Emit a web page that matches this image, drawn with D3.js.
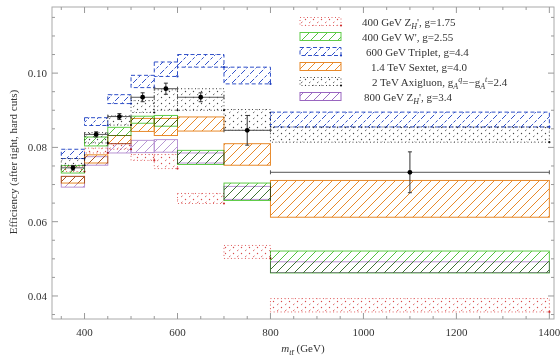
<!DOCTYPE html>
<html>
<head>
<meta charset="utf-8">
<script src="https://cdn.jsdelivr.net/npm/d3@7"></script>
<style>
  html, body { margin: 0; padding: 0; background: #fff; }
  svg text { font-family: "Liberation Serif", "DejaVu Serif", serif; fill: #333; }
  .band { mix-blend-mode: multiply; }
</style>
</head>
<body>
<svg id="chart" width="560" height="357"></svg>
<script>
// Mass bin edges (GeV)
const binEdges = [350, 400, 450, 500, 550, 600, 700, 800, 1400];

// Efficiency bands per bin: [low, high]
const zh400Low  = [0.0735, 0.0785, 0.0795, 0.0765, 0.0743, 0.0649, 0.0501, 0.0357];
const zh400High = [0.0748, 0.0798, 0.0810, 0.0781, 0.0781, 0.0676, 0.0536, 0.0393];

const wpLow  = [0.0731, 0.0804, 0.0832, 0.0865, 0.0857, 0.0754, 0.0657, 0.0462];
const wpHigh = [0.0751, 0.0828, 0.0854, 0.0884, 0.0886, 0.0792, 0.0704, 0.0521];

const tripletLow  = [0.0770, 0.0859, 0.0918, 0.0961, 0.0991, 0.1016, 0.0971, 0.0855];
const tripletHigh = [0.0795, 0.0880, 0.0942, 0.0994, 0.1030, 0.1050, 0.1016, 0.0895];

const sextetLow  = [0.0704, 0.0758, 0.0810, 0.0843, 0.0832, 0.0844, 0.0752, 0.0612];
const sextetHigh = [0.0722, 0.0780, 0.0832, 0.0878, 0.0878, 0.0882, 0.0810, 0.0711];

const axiLow  = [0.0752, 0.0812, 0.0860, 0.0894, 0.0900, 0.0900, 0.0846, 0.0814];
const axiHigh = [0.0770, 0.0840, 0.0885, 0.0926, 0.0955, 0.0958, 0.0902, 0.0855];

const zh800Low  = [0.0693, 0.0752, 0.0785, 0.0786, 0.0787, 0.0758, 0.0660, 0.0463];
const zh800High = [0.0722, 0.0775, 0.0810, 0.0819, 0.0821, 0.0785, 0.0695, 0.0492];

// Measured efficiency points with errors
const pointValues = [0.0745, 0.0835, 0.0883, 0.0935, 0.0958, 0.0935, 0.0846, 0.0733];
const pointErrors = [0.0006, 0.0007, 0.0008, 0.0012, 0.0015, 0.0012, 0.0040, 0.0055];

// Axis ticks
const xMajorTicks = [400, 600, 800, 1000, 1200, 1400];
const yMajorTicks = [0.04, 0.06, 0.08, 0.10];

const svg = d3.select("#chart");
const plotLeft = 52, plotRight = 554, plotTop = 7, plotBottom = 319;

const x = d3.scaleLinear().domain([330, 1410]).range([plotLeft, plotRight]);
const y = d3.scaleLinear().domain([0.0338, 0.1178]).range([plotBottom, plotTop]);

// ---- fill patterns ----
const defs = svg.append("defs");
function hatch(id, color, dash) {
  const p = defs.append("pattern").attr("id", id)
    .attr("patternUnits", "userSpaceOnUse").attr("width", 9).attr("height", 9);
  p.append("path").attr("d", "M0,9 L9,0 M-2,2 L2,-2 M7,11 L11,7")
    .attr("stroke", color).attr("stroke-width", 1)
    .attr("stroke-dasharray", dash || null)
    .attr("fill", "none");
}
function dots(id, color) {
  const p = defs.append("pattern").attr("id", id)
    .attr("patternUnits", "userSpaceOnUse").attr("width", 8).attr("height", 6);
  p.append("circle").attr("cx", 1.5).attr("cy", 1.5).attr("r", 0.7).attr("fill", color);
  p.append("path").attr("d", "M5,5 L6.5,3.8").attr("stroke", color).attr("stroke-width", 0.8);
}
hatch("hGreen", "#55c040");
hatch("hBlue", "#3050c8", "3,2");
hatch("hOrange", "#e8892a");
hatch("hPurple", "#9a6cc0");
dots("dRed", "#d84a4a");
dots("dBlack", "#444");

const series = [
  { name: "zh400", low: zh400Low, high: zh400High, stroke: "#e06060", fill: "url(#dRed)", dash: "1,2.5", corner: "#d03030", alpha: 1 },
  { name: "wp", low: wpLow, high: wpHigh, stroke: "#60cc48", fill: "url(#hGreen)", dash: null, alpha: 1 },
  { name: "triplet", low: tripletLow, high: tripletHigh, stroke: "#3050c8", fill: "url(#hBlue)", dash: "4,2.5", corner: "#2040c0", alpha: 1 },
  { name: "sextet", low: sextetLow, high: sextetHigh, stroke: "#e8892a", fill: "url(#hOrange)", dash: null, alpha: 1 },
  { name: "axi", low: axiLow, high: axiHigh, stroke: "#444", fill: "url(#dBlack)", dash: "1,2.5", corner: "#111", alpha: 1 },
  { name: "zh800", low: zh800Low, high: zh800High, stroke: "#9a66c0", fill: "url(#hPurple)", dash: null, alpha: 0.7 }
];

const bins = d3.range(binEdges.length - 1);
const plot = svg.append("g").style("isolation", "isolate");

series.forEach(s => {
  const g = plot.append("g").attr("class", "band " + s.name).attr("opacity", s.alpha);
  g.selectAll("rect").data(bins).join("rect")
    .attr("x", i => x(binEdges[i]))
    .attr("width", i => x(binEdges[i + 1]) - x(binEdges[i]))
    .attr("y", i => y(s.high[i]))
    .attr("height", i => y(s.low[i]) - y(s.high[i]))
    .attr("fill", s.fill)
    .attr("stroke", s.stroke)
    .attr("stroke-width", 1)
    .attr("stroke-dasharray", s.dash);
  if (s.corner) {
    g.selectAll("circle").data(bins).join("circle")
      .attr("cx", i => x(binEdges[i + 1]))
      .attr("cy", i => y(s.low[i]))
      .attr("r", 1.1).attr("fill", s.corner);
  }
});

// ---- measured points ----
const pts = plot.append("g");
bins.forEach(i => {
  const x0 = x(binEdges[i]), x1 = x(binEdges[i + 1]);
  const xc = x((binEdges[i] + binEdges[i + 1]) / 2);
  const v = pointValues[i], e = pointErrors[i];
  pts.append("line").attr("x1", x0).attr("x2", x1).attr("y1", y(v)).attr("y2", y(v))
    .attr("stroke", "#555").attr("stroke-width", 1);
  [x0, x1].forEach(xe => pts.append("line").attr("x1", xe).attr("x2", xe)
    .attr("y1", y(v) - 2).attr("y2", y(v) + 2).attr("stroke", "#555"));
  pts.append("line").attr("x1", xc).attr("x2", xc).attr("y1", y(v + e)).attr("y2", y(v - e))
    .attr("stroke", "#333").attr("stroke-width", 1);
  [v + e, v - e].forEach(ve => pts.append("line").attr("x1", xc - 2).attr("x2", xc + 2)
    .attr("y1", y(ve)).attr("y2", y(ve)).attr("stroke", "#333"));
  pts.append("circle").attr("cx", xc).attr("cy", y(v)).attr("r", 2.4).attr("fill", "#000");
});

// ---- frame and ticks ----
const frame = svg.append("g");
frame.append("rect").attr("x", plotLeft).attr("y", plotTop)
  .attr("width", plotRight - plotLeft).attr("height", plotBottom - plotTop)
  .attr("fill", "none").attr("stroke", "#aaa").attr("stroke-width", 1);

const xMinor = d3.range(350, 1401, 50).filter(t => !xMajorTicks.includes(t));
const yMinor = d3.range(0.035, 0.1176, 0.005).filter(t => !yMajorTicks.some(m => Math.abs(m - t) < 1e-6));

function xTicks(vals, len) {
  vals.forEach(t => {
    frame.append("line").attr("x1", x(t)).attr("x2", x(t)).attr("y1", plotBottom).attr("y2", plotBottom - len).attr("stroke", "#999");
    frame.append("line").attr("x1", x(t)).attr("x2", x(t)).attr("y1", plotTop).attr("y2", plotTop + len).attr("stroke", "#999");
  });
}
function yTicks(vals, len) {
  vals.forEach(t => {
    frame.append("line").attr("y1", y(t)).attr("y2", y(t)).attr("x1", plotLeft).attr("x2", plotLeft + len).attr("stroke", "#999");
    frame.append("line").attr("y1", y(t)).attr("y2", y(t)).attr("x1", plotRight).attr("x2", plotRight - len).attr("stroke", "#999");
  });
}
xTicks(xMajorTicks, 6); xTicks(xMinor, 3);
yTicks(yMajorTicks, 6); yTicks(yMinor, 3);

frame.selectAll("text.xt").data(xMajorTicks).join("text").attr("class", "xt")
  .attr("x", d => x(d)).attr("y", plotBottom + 17).attr("text-anchor", "middle")
  .attr("font-size", 11).text(d => d);
frame.selectAll("text.yt").data(yMajorTicks).join("text").attr("class", "yt")
  .attr("x", plotLeft - 5).attr("y", d => y(d) + 4).attr("text-anchor", "end")
  .attr("font-size", 11).text(d => d3.format(".2f")(d));

// axis titles
const xl = svg.append("text").attr("x", 303).attr("y", 352).attr("text-anchor", "middle").attr("font-size", 11);
xl.append("tspan").attr("font-style", "italic").text("m");
xl.append("tspan").attr("font-style", "italic").attr("font-size", 8).attr("dy", 3).text("tt̄");
xl.append("tspan").attr("dy", -3).text(" (GeV)");

svg.append("text").attr("transform", "translate(17,162) rotate(-90)")
  .attr("text-anchor", "middle").attr("font-size", 11)
  .text("Efficiency (after tight, hard cuts)");

// ---- legend ----
const legendRows = [
  [["400 GeV Z"], ["H", "sub"], ["', g=1.75"]],
  [["400 GeV W', g=2.55"]],
  [["600 GeV Triplet, g=4.4"]],
  [["1.4 TeV Sextet, g=4.0"]],
  [["2 TeV Axigluon, g"], ["A", "sub"], ["q", "sup"], ["=\u2212g"], ["A", "sub"], ["t", "sup"], ["=2.4"]],
  [["800 GeV Z"], ["H", "sub"], ["', g=3.4"]]
];
const leg = svg.append("g");
const legTextX = [362, 362, 366, 371, 372, 364];
series.forEach((s, i) => {
  const cy = 21.5 + i * 15;
  leg.append("rect").attr("x", 300).attr("y", cy - 4).attr("width", 41).attr("height", 8)
    .attr("fill", s.fill).attr("stroke", s.stroke).attr("stroke-dasharray", s.dash);
  if (s.corner) leg.append("circle").attr("cx", 341).attr("cy", cy + 4).attr("r", 1.1).attr("fill", s.corner);
  const t = leg.append("text").attr("x", legTextX[i]).attr("y", cy + 4).attr("font-size", 11);
  let shift = 0;
  legendRows[i].forEach(([str, kind]) => {
    let dy = 0, fs = null, it = null;
    if (kind === "sub") { dy = 3 - shift; shift = 3; fs = 8; it = "italic"; }
    else if (kind === "sup") { dy = -4 - shift; shift = -4; fs = 8; it = "italic"; }
    else { dy = -shift; shift = 0; }
    t.append("tspan").attr("dy", dy).attr("font-size", fs).attr("font-style", it).text(str);
  });
});
</script>
</body>
</html>
